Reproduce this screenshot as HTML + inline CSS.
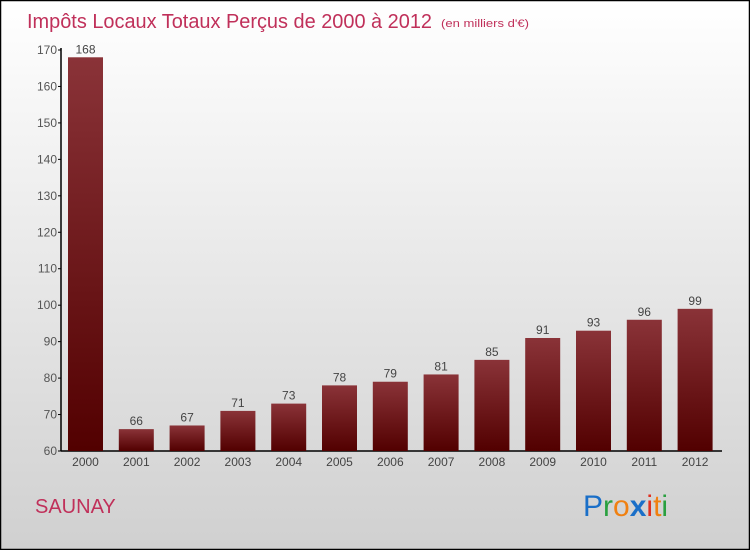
<!DOCTYPE html>
<html><head><meta charset="utf-8"><style>
body{margin:0;width:750px;height:550px;overflow:hidden}
svg{display:block}
text{font-family:"Liberation Sans",sans-serif}
</style></head><body>
<svg width="750" height="550">
<defs>
<linearGradient id="bg" x1="0" y1="0" x2="0" y2="1"><stop offset="0" stop-color="#ffffff"/><stop offset="1" stop-color="#d0d0d0"/></linearGradient>
<linearGradient id="bar" x1="0" y1="0" x2="0" y2="1"><stop offset="0" stop-color="#8a3338"/><stop offset="1" stop-color="#520000"/></linearGradient>
</defs>
<rect x="0.5" y="0.5" width="749" height="549" fill="url(#bg)" stroke="#000" stroke-width="1.5"/>
<text x="27" y="28" font-size="20" fill="#c0305a" textLength="405" lengthAdjust="spacingAndGlyphs">Impôts Locaux Totaux Perçus de 2000 à 2012</text>
<text x="441" y="27" font-size="11" fill="#c0305a" textLength="88" lengthAdjust="spacingAndGlyphs">(en milliers d'€)</text>
<g id="axes"></g>
<g id="bars"></g>
<text x="35" y="513" font-size="20" fill="#c0305a">SAUNAY</text>
<text x="583" y="516" font-size="30"><tspan fill="#1a6fc8">P</tspan><tspan fill="#2aa040">r</tspan><tspan fill="#f08010">o</tspan><tspan fill="#1a6fc8" font-weight="bold">x</tspan><tspan fill="#e03020">i</tspan><tspan fill="#f08010">t</tspan><tspan fill="#2aa040">i</tspan></text>
</svg>
<script>
const years=["2000","2001","2002","2003","2004","2005","2006","2007","2008","2009","2010","2011","2012"];
const values=[168,66,67,71,73,78,79,81,85,91,93,96,99];
const yTicks=[60,70,80,90,100,110,120,130,140,150,160,170];
const NS="http://www.w3.org/2000/svg";
const y0=451,yPer=(451-50)/110,yMin=60;
function Y(v){return y0-(v-yMin)*yPer;}
function X(i){return 85.5+i*50.8;}
function mk(tag,attrs,parent,txt){const e=document.createElementNS(NS,tag);for(const k in attrs)e.setAttribute(k,attrs[k]);if(txt!==undefined)e.textContent=txt;parent.appendChild(e);return e;}
const ax=document.getElementById('axes'),bg=document.getElementById('bars');
let l=mk('line',{x1:61,y1:48,x2:61,y2:451,stroke:'#000','stroke-width':1.5},ax);


l=mk('line',{x1:61,y1:451,x2:722,y2:451,stroke:'#000','stroke-width':1.5},ax);


yTicks.forEach(v=>{
 const t=mk('line',{x1:58,y1:Y(v),x2:61,y2:Y(v),stroke:'#000'},ax);
 
 
 const tx=mk('text',{x:57,y:Y(v)+4,'font-size':12,fill:'#555','text-anchor':'end'},ax,v);
 
 
});
values.forEach((v,i)=>{
 const r=mk('rect',{x:X(i)-17.5,y:Y(v),width:35,height:y0-Y(v),fill:'url(#bar)'},bg);
 
 
 const vt=mk('text',{x:X(i),y:Y(v)-4,'font-size':12,fill:'#444','text-anchor':'middle'},bg,v);
 
 
 const xt=mk('text',{x:X(i),y:466,'font-size':12,fill:'#444','text-anchor':'middle'},bg,years[i]);
 
 
});
</script>
</body></html>
